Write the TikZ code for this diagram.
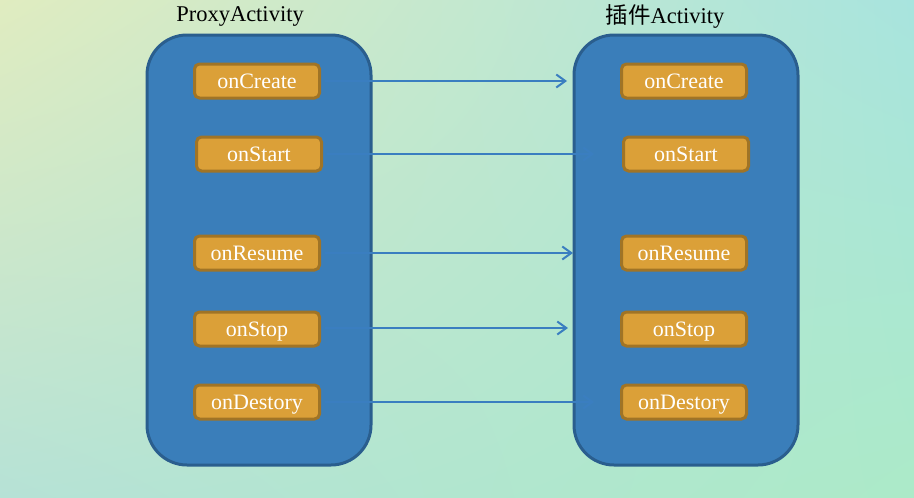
\documentclass[tikz,border=0pt]{standalone}
\usepackage{fontspec}
\setmainfont{Liberation Serif}
\newfontfamily\cjk{Noto Sans CJK SC}
\usetikzlibrary{arrows.meta,shadings}
\definecolor{bigfill}{HTML}{3A7EBA}
\definecolor{bigdraw}{HTML}{2A5E8E}
\definecolor{orfill}{HTML}{DBA038}
\definecolor{ordraw}{HTML}{A07426}
\definecolor{arrcol}{HTML}{3A7EC0}
\definecolor{bgA}{RGB}{224,236,192}
\definecolor{bgB}{RGB}{168,228,222}
\definecolor{bgC}{RGB}{182,226,214}
\definecolor{bgD}{RGB}{172,234,200}
\tikzset{
  bigbox/.style={draw=bigdraw, fill=bigfill, line width=3pt, rounded corners=40pt},
  method/.style={draw=ordraw, fill=orfill, line width=3pt, rounded corners=5pt,
     minimum width=125pt, minimum height=34pt, inner sep=0pt, text=white,
     text height=14pt, text depth=0pt, font=\fontsize{22}{24}\selectfont},
  title/.style={font=\fontsize{22.5}{26}\selectfont, text=black},
  conn/.style={draw=arrcol, line width=2pt, -{Straight Barb[length=9pt,width=13pt,line width=2pt]}}
}
\begin{document}
\begin{tikzpicture}[x=1pt,y=-1pt]
\useasboundingbox (0,0) rectangle (914,498);
\shade[upper left=bgA, upper right=bgB, lower left=bgC, lower right=bgD] (0,0) rectangle (914,498);
\draw[bigbox] (147,35) rectangle (371,465);
\draw[bigbox] (574,35) rectangle (798,465);
\node[title] (tl) at (240,16) {ProxyActivity};
\node[title] (tr) at (665,16) {{\cjk 插件}Activity};
\node[method] (l1) at (257,81) {onCreate};
\node[method] (l2) at (259,154) {onStart};
\node[method] (l3) at (257,253) {onResume};
\node[method] (l4) at (257,329) {onStop};
\node[method] (l5) at (257,402) {onDestory};
\node[method] (r1) at (684,81) {onCreate};
\node[method] (r2) at (686,154) {onStart};
\node[method] (r3) at (684,253) {onResume};
\node[method] (r4) at (684,329) {onStop};
\node[method] (r5) at (684,402) {onDestory};
\coordinate (e1) at (567,81);
\coordinate (e2) at (594,154);
\coordinate (e3) at (573,253);
\coordinate (e4) at (568,328);
\coordinate (e5) at (594,402);
\draw[conn] (l1.east) ++(4,0) -- (e1);
\draw[conn] (l2.east) ++(4,0) -- (e2);
\draw[conn] (l3.east) ++(4,0) -- (e3);
\draw[conn] (l4.east) ++(4,-1) -- (e4);
\draw[conn] (l5.east) ++(4,0) -- (e5);
\end{tikzpicture}
\end{document}
